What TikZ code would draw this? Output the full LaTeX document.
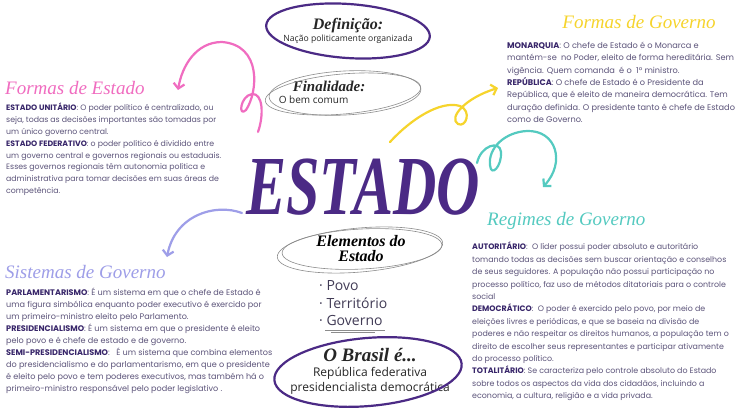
\documentclass[tikz,border=0pt]{standalone}
\usepackage{fontspec}
\setmainfont{Poppins}
\newfontfamily\handfont{Liberation Serif}
\newfontfamily\notefont{Open Sans}
\usepackage{graphicx}
\usetikzlibrary{arrows.meta, positioning, shapes.geometric}
\definecolor{estadopurple}{RGB}{75,42,133}
\definecolor{bodygray}{RGB}{92,84,122}
\definecolor{termpurple}{RGB}{56,38,106}
\definecolor{pinkhead}{RGB}{240,108,192}
\definecolor{yellowhead}{RGB}{246,212,44}
\definecolor{tealhead}{RGB}{84,202,192}
\definecolor{lavhead}{RGB}{158,158,232}
\definecolor{sketchgray}{RGB}{140,140,140}
\newcommand{\term}[1]{\textbf{\color{termpurple}#1}}

\begin{document}
\begin{tikzpicture}[
  x=1pt, y=-1pt,
  heading/.style={font=\handfont\itshape\fontsize{19}{19}\selectfont, inner sep=0pt},
  infotext/.style={anchor=north west, align=left, inner sep=0pt, text=bodygray, font=\fontsize{7.8}{11.8}\selectfont},
  bubble/.style={align=center, inner sep=0pt, text=black!85},
  title/.style={font=\handfont\itshape\bfseries\fontsize{16}{15}\selectfont},
  curl/.style={line width=2.2pt, line cap=round, line join=round, -{Straight Barb[length=5pt,width=11pt]}},
  ring/.style={line width=2.2pt, draw=estadopurple},
  sketch/.style={line width=0.6pt, draw=sketchgray},
  bullet/.style={anchor=west, inner sep=0pt, text=bodygray!70!black, font=\notefont\fontsize{14}{14}\selectfont}
]
  \useasboundingbox[fill=white] (0,0) rectangle (736,414);

  % Center title
  \node[font=\handfont\itshape\bfseries\fontsize{60}{60}\selectfont, text=estadopurple] (estado) at (363,187) {\scalebox{1}[1.4]{ESTADO}};

  % Definicao
  \node[bubble, font=\notefont\fontsize{8.6}{10}\selectfont] (def) at (348,31) {\textbf{\handfont\itshape\fontsize{16}{16}\selectfont Definição:}\\[2pt]Nação politicamente organizada};
  \draw[ring, rotate around={-4:(def.center)}] (def.center) ellipse [x radius=82pt, y radius=27pt];

  % Finalidade
  \node[bubble, align=left, font=\notefont\fontsize{10}{11}\selectfont] (fin) at (322,92) {\hspace*{14pt}\textbf{\handfont\itshape\fontsize{15}{15}\selectfont Finalidade:}\\[1pt]O bem comum};
  \draw[sketch, rotate around={5:(343,94)}] (343,94) ellipse [x radius=78pt, y radius=20pt];
  \draw[sketch, rotate around={3:(345,93)}] (345,93) ellipse [x radius=76pt, y radius=22pt];

  % Elementos do Estado
  \node[bubble, title, text=black] (elem) at (361,249) {Elementos do\\Estado};
  \draw[sketch, rotate around={5:(360,250)}] (360,250) ellipse [x radius=83pt, y radius=22pt];
  \draw[sketch, rotate around={3:(362,249)}] (362,249) ellipse [x radius=80pt, y radius=20pt];
  \node[bullet] (povo) at (319,286) {· Povo};
  \node[bullet] (terr) at (319,303) {· Território};
  \node[bullet] (gov) at (319,320) {· Governo};
  \draw[sketch, line width=1.2pt] ([xshift=6pt, yshift=-5pt]gov.south west) -- ([xshift=2pt, yshift=-5pt]gov.south east);
  \draw[sketch] ([xshift=12pt, yshift=-7pt]gov.south west) -- ([xshift=-8pt, yshift=-7pt]gov.south east);

  % O Brasil e...
  \node[bubble, font=\notefont\fontsize{12}{15}\selectfont] (brasil) at (370,371) {\textbf{\handfont\itshape\fontsize{19}{19}\selectfont O Brasil é...}\\[0pt]República federativa\\presidencialista democrática};
  \draw[ring, rotate around={5:(368,372)}] (368,372) ellipse [x radius=94pt, y radius=34pt];

  % Formas de Estado
  \node[heading, text=pinkhead, anchor=west] (festado) at (5,88) {Formas de Estado};
  \node[infotext] (festadotxt) at (6,103) {\term{ESTADO UNITÁRIO}: O poder político é centralizado, ou\\
seja, todas as decisões importantes são tomadas por\\
um único governo central.\\
\term{ESTADO FEDERATIVO}: o poder político é dividido entre\\
um governo central e governos regionais ou estaduais.\\
Esses governos regionais têm autonomia política e\\
administrativa para tomar decisões em suas áreas de\\
competência.};

  % Formas de Governo
  \node[heading, text=yellowhead] (fgov) at (639,22) {Formas de Governo};
  \node[infotext, font=\fontsize{8.2}{12.3}\selectfont] (fgovtxt) at (507,42) {\term{MONARQUIA}: O chefe de Estado é o Monarca e\\
mantém-se\ \ no Poder, eleito de forma hereditária. Sem\\
vigência. Quem comanda\ \ é o\ \ 1º ministro.\\
\term{REPÚBLICA}: O chefe de Estado é o Presidente da\\
República, que é eleito de maneira democrática. Tem\\
duração definida. O presidente tanto é chefe de Estado\\
como de Governo.};

  % Regimes de Governo
  \node[heading, text=tealhead, anchor=west] (reg) at (487,221) {Regimes de Governo};
  \node[infotext, font=\fontsize{7.9}{12.4}\selectfont] (regtxt) at (472,242) {\term{AUTORITÁRIO}:\ \ O líder possui poder absoluto e autoritário\\
tomando todas as decisões sem buscar orientação e conselhos\\
de seus seguidores. A população não possui participação no\\
processo político, faz uso de métodos ditatoriais para o controle\\
social\\
\term{DEMOCRÁTICO}:\ \ O poder é exercido pelo povo, por meio de\\
eleições livres e periódicas, e que se baseia na divisão de\\
poderes e não respeitar os direitos humanos, a população tem o\\
direito de escolher seus representantes e participar ativamente\\
do processo político.\\
\term{TOTALITÁRIO}: Se caracteriza pelo controle absoluto do Estado\\
sobre todos os aspectos da vida dos cidadãos, incluindo a\\
economia, a cultura, religião e a vida privada.};

  % Sistemas de Governo
  \node[heading, text=lavhead, anchor=west] (sis) at (5,272) {Sistemas de Governo};
  \node[infotext, font=\fontsize{8.1}{12}\selectfont] (sistxt) at (6,288) {\term{PARLAMENTARISMO}: É um sistema em que o chefe de Estado é\\
uma figura simbólica enquanto poder executivo é exercido por\\
um primeiro-ministro eleito pelo Parlamento.\\
\term{PRESIDENCIALISMO}: É um sistema em que o presidente é eleito\\
pelo povo e é chefe de estado e de governo.\\
\term{SEMI-PRESIDENCIALISMO}:\ \ \ É um sistema que combina elementos\\
do presidencialismo e do parlamentarismo, em que o presidente\\
é eleito pelo povo e tem poderes executivos, mas também há o\\
primeiro-ministro responsável pelo poder legislativo .};

  % Curly arrows
  \coordinate (pinkS) at (258,132);
  \coordinate (pinkE) at (178,90);
  \coordinate (yelS) at (390,142);
  \coordinate (yelE) at (498,88);
  \coordinate (tealS) at (477,163);
  \coordinate (tealE) at (543,187);
  \coordinate (lavS) at (242,213);
  \coordinate (lavE) at (167,257);

  \draw[curl, pinkhead] (pinkS) .. controls (264,115) and (263,93) .. (252,94)
    .. controls (240,96) and (238,118) .. (246,110)
    .. controls (258,92) and (262,45) .. (222,42)
    .. controls (196,42) and (182,66) .. (pinkE);
  \draw[curl, yellowhead] (yelS) .. controls (410,120) and (440,100) .. (460,106)
    .. controls (472,111) and (466,128) .. (458,124)
    .. controls (448,118) and (465,98) .. (yelE);
  \draw[curl, tealhead] (tealS) .. controls (481,145) and (500,140) .. (501,152)
    .. controls (502,166) and (491,178) .. (490,165)
    .. controls (488,148) and (505,132) .. (527,131)
    .. controls (556,130) and (566,162) .. (tealE);
  \draw[curl, lavhead] (lavS) .. controls (215,203) and (175,215) .. (lavE);
\end{tikzpicture}
\end{document}
